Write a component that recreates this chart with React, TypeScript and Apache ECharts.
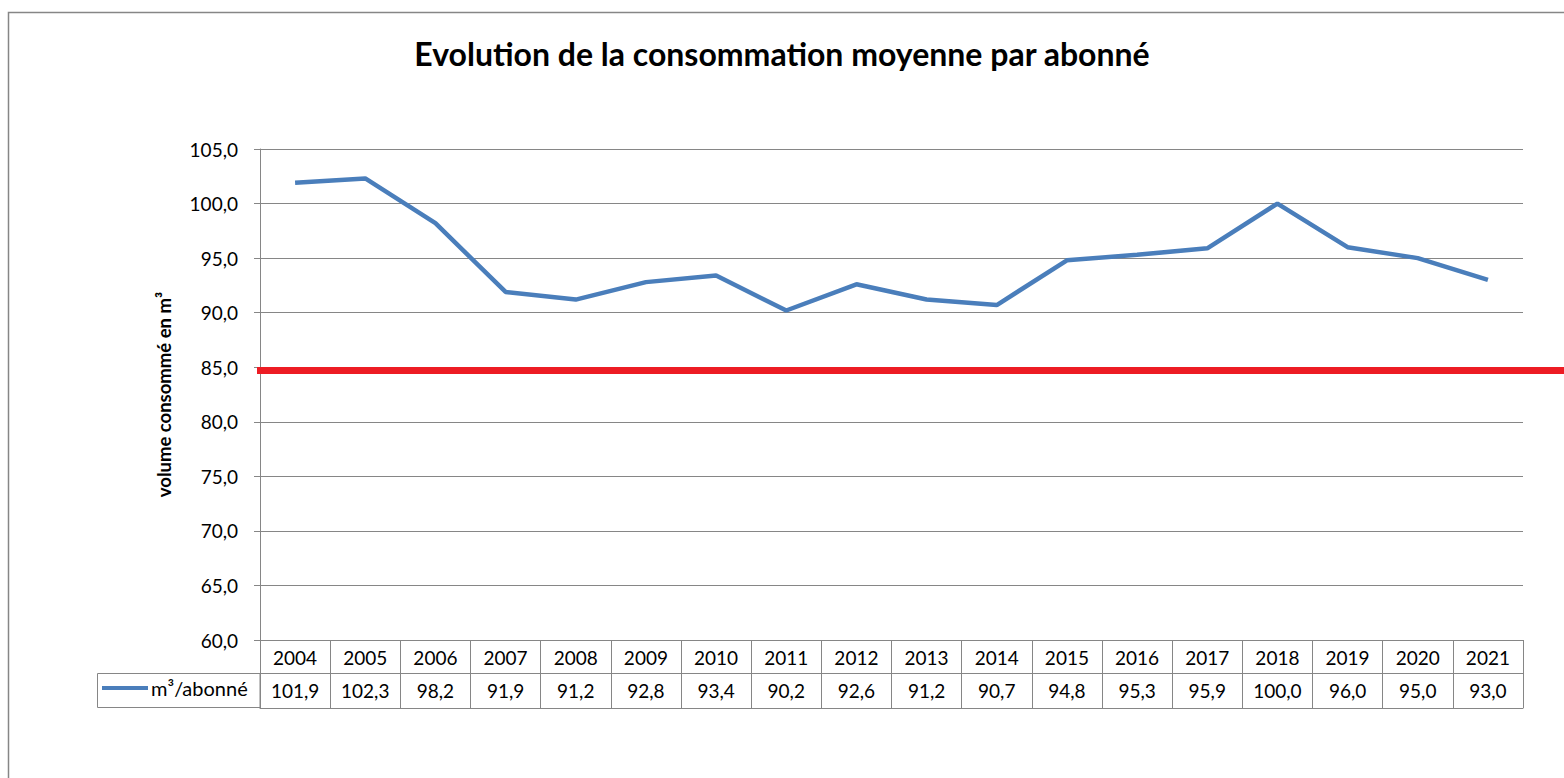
import React, { useEffect, useRef } from 'react';
import * as echarts from 'echarts';

const FONT = 'Lato, "Open Sans", sans-serif';
const GRAY = '#868686';

const chartTitle = 'Evolution de la consommation moyenne par abonné';
const yAxisTitle = 'volume consommé en m³';
const seriesName = 'm³/abonné';
const years = ['2004', '2005', '2006', '2007', '2008', '2009', '2010', '2011', '2012', '2013', '2014', '2015', '2016', '2017', '2018', '2019', '2020', '2021'];
const values = [101.9, 102.3, 98.2, 91.9, 91.2, 92.8, 93.4, 90.2, 92.6, 91.2, 90.7, 94.8, 95.3, 95.9, 100.0, 96.0, 95.0, 93.0];
const yMin = 60;
const yMax = 105;
const yStep = 5;
const threshold = 84.7;

const fmt = (v: number) => v.toFixed(1).replace('.', ',');

export default function App() {
  const ref = useRef<HTMLDivElement>(null);
  useEffect(() => {
    const chart = echarts.init(ref.current!, null, { renderer: 'svg' });
    chart.setOption({
      animation: false,
      backgroundColor: '#ffffff',
      textStyle: { fontFamily: FONT },
      title: {
        text: chartTitle,
        left: 'center',
        top: 32,
        textStyle: { fontFamily: FONT, fontSize: 32, fontWeight: 'bold', color: '#000' },
      },
      legend: {
        data: [seriesName],
        left: 102,
        top: 678,
        padding: 0,
        itemWidth: 46,
        itemHeight: 4,
        itemGap: 0,
        icon: 'rect',
        textStyle: { fontFamily: FONT, fontSize: 20, color: '#000', padding: [0, 0, 0, -2] },
      },
      grid: { left: 260, right: 41, top: 149, bottom: 138, containLabel: false },
      xAxis: [
        {
          type: 'category',
          data: years,
          position: 'bottom',
          boundaryGap: true,
          axisLine: { show: true, lineStyle: { color: GRAY, width: 1 } },
          axisTick: { show: true, length: 68, interval: 0, lineStyle: { color: GRAY, width: 1 } },
          axisLabel: { show: true, interval: 0, margin: 8, fontSize: 19, color: '#000', fontFamily: FONT },
          splitLine: { show: false },
        },
        {
          type: 'category',
          data: years,
          position: 'bottom',
          offset: 33,
          boundaryGap: true,
          axisLine: { show: true, lineStyle: { color: GRAY, width: 1 } },
          axisTick: { show: false },
          axisLabel: {
            show: true,
            interval: 0,
            margin: 8,
            fontSize: 19,
            color: '#000',
            fontFamily: FONT,
            formatter: (_v: string, i: number) => fmt(values[i]),
          },
          splitLine: { show: false },
        },
        {
          type: 'category',
          data: years,
          position: 'bottom',
          offset: 68,
          boundaryGap: true,
          axisLine: { show: true, lineStyle: { color: GRAY, width: 1 } },
          axisTick: { show: false },
          axisLabel: { show: false },
          splitLine: { show: false },
        },
      ],
      yAxis: {
        type: 'value',
        min: yMin,
        max: yMax,
        interval: yStep,
        name: yAxisTitle,
        nameLocation: 'middle',
        nameRotate: 90,
        nameGap: 87,
        nameTextStyle: { fontFamily: FONT, fontSize: 18.5, fontWeight: 'bold', color: '#000' },
        axisLine: { show: true, lineStyle: { color: GRAY, width: 1 } },
        axisTick: { show: true, length: 6, lineStyle: { color: GRAY, width: 1 } },
        axisLabel: { margin: 22, fontSize: 19, color: '#000', fontFamily: FONT, formatter: (v: number) => fmt(v) },
        splitLine: { show: true, lineStyle: { color: GRAY, width: 1 } },
      },
      series: [
        {
          name: seriesName,
          type: 'line',
          xAxisIndex: 0,
          data: values,
          showSymbol: false,
          symbol: 'none',
          lineStyle: { color: '#4A7EBB', width: 4.5 },
          itemStyle: { color: '#4A7EBB' },
        },
      ],
    });
    const yPix = chart.convertToPixel({ yAxisIndex: 0 }, threshold) as number;
    chart.setOption({
      graphic: [
        {
          id: 'border',
          type: 'rect',
          shape: { x: 8.5, y: 12.5, width: 1700, height: 900 },
          style: { fill: 'none', stroke: GRAY, lineWidth: 1.5 },
          silent: true,
        },
        {
          id: 'legendBox',
          type: 'rect',
          shape: { x: 97.5, y: 673.5, width: 162.5, height: 34 },
          style: { fill: 'none', stroke: GRAY, lineWidth: 1 },
          silent: true,
        },
        {
          id: 'threshold',
          type: 'line',
          shape: { x1: 257, y1: yPix, x2: 1564, y2: yPix },
          style: { stroke: '#ED1C24', lineWidth: 7 },
          z: 10,
          silent: true,
        },
      ],
    });
    return () => chart.dispose();
  }, []);
  return <div ref={ref} style={{ position: 'absolute', left: 0, top: 0, width: 1564, height: 778 }} />;
}
